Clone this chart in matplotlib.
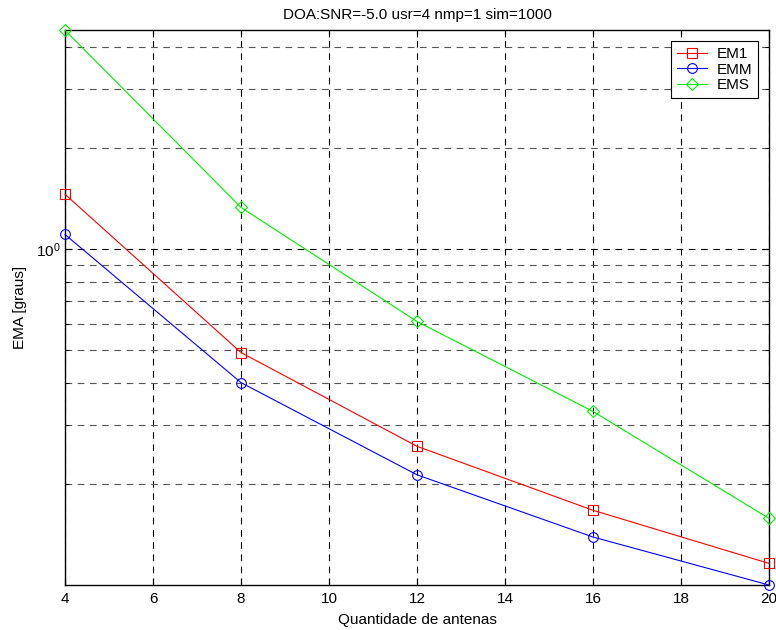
import matplotlib
matplotlib.use("Agg")
import matplotlib.pyplot as plt
from matplotlib.ticker import FixedLocator, NullFormatter, LogFormatterMathtext

plt.rcParams['font.family'] = ['Liberation Sans', 'DejaVu Sans']
plt.rcParams['mathtext.fontset'] = 'custom'
plt.rcParams['mathtext.rm'] = 'Liberation Sans'

antenas = [4, 8, 12, 16, 20]
em1 = [1.46, 0.493, 0.259, 0.167, 0.116]
emm = [1.108, 0.401, 0.213, 0.139, 0.100]
ems = [4.5, 1.334, 0.610, 0.329, 0.158]

fig = plt.figure(figsize=(7.76, 6.30), dpi=100)
ax = fig.add_axes([0.0838, 0.0714, 0.9072, 0.8806])

ax.plot(antenas, em1, color='red', marker='s', mfc='none', ms=7, lw=0.8, mew=0.8,
        label='EM1', clip_on=False, zorder=3)
ax.plot(antenas, emm, color='blue', marker='o', mfc='none', ms=7, lw=0.8, mew=0.8,
        label='EMM', clip_on=False, zorder=3)
ax.plot(antenas, ems, color='#00ee00', marker='D', mfc='none', ms=6, lw=0.8, mew=0.8,
        label='EMS', clip_on=False, zorder=3)

ax.set_yscale('log')
ax.set_xlim(4, 20)
ax.set_ylim(0.1, 4.5)
ax.set_xticks(range(4, 21, 2))
ax.yaxis.set_major_locator(FixedLocator([1.0]))
ax.yaxis.set_major_formatter(LogFormatterMathtext())
ax.yaxis.set_minor_locator(FixedLocator([0.2, 0.3, 0.4, 0.5, 0.6, 0.7, 0.8, 0.9, 2, 3, 4]))
ax.yaxis.set_minor_formatter(NullFormatter())

ax.grid(True, which='major', color='black', linestyle=(0, (6, 5)), linewidth=0.8)
ax.grid(True, which='minor', axis='y', color='#555555', linestyle=(0, (6, 5)), linewidth=0.8)

ax.tick_params(which='both', direction='in', top=True, right=True, labelsize=11)
ax.tick_params(axis='x', pad=5)
ax.tick_params(which='major', length=5)
ax.tick_params(which='minor', length=3)
for s in ax.spines.values():
    s.set_linewidth(1.0)

ax.set_title('DOA:SNR=-5.0 usr=4 nmp=1 sim=1000', fontsize=11, pad=8)
ax.set_xlabel('Quantidade de antenas', fontsize=11, labelpad=5)
ax.set_ylabel('EMA [graus]', fontsize=11, labelpad=6)

leg = ax.legend(loc='upper right', fontsize=11, fancybox=False, framealpha=1,
                edgecolor='black', borderpad=0.4, labelspacing=0.1, handlelength=2.0,
                handletextpad=0.6, borderaxespad=0.7)
leg.get_frame().set_linewidth(0.8)

fig.savefig('out.png', dpi=100)
